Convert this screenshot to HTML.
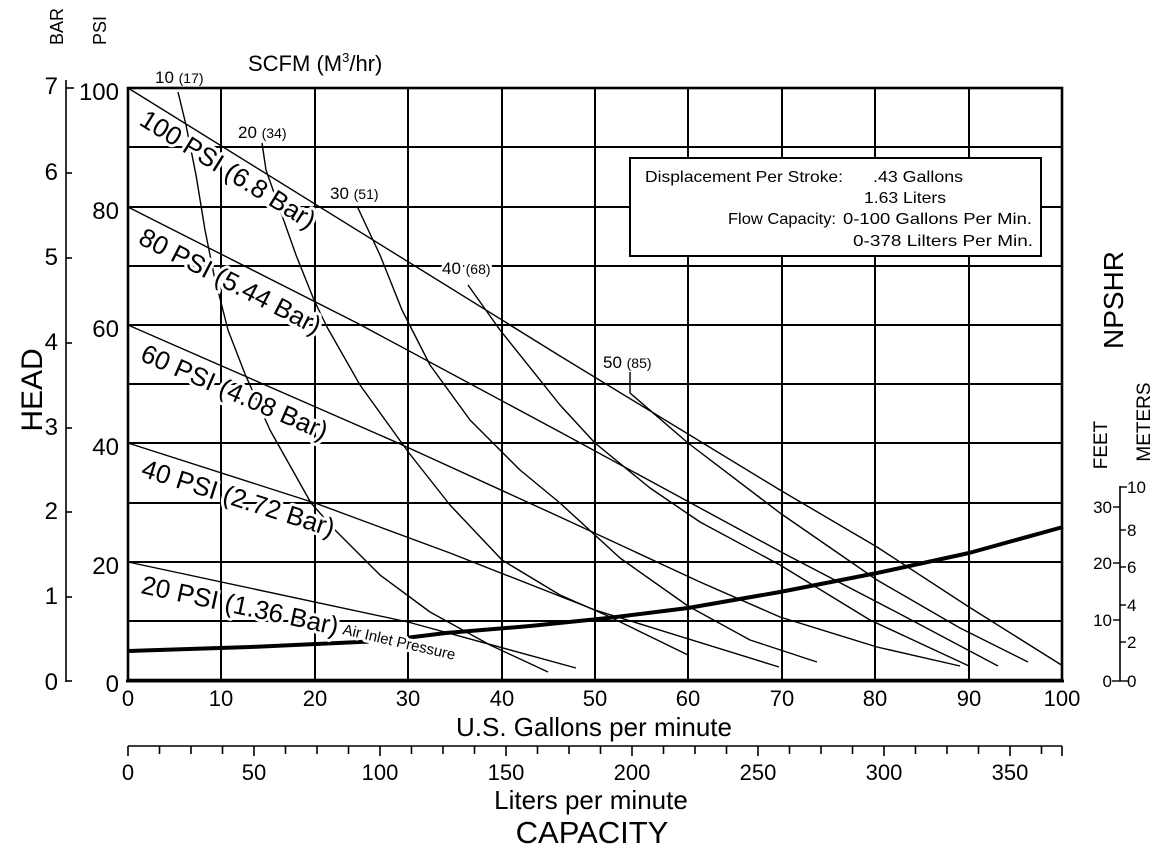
<!DOCTYPE html>
<html><head><meta charset="utf-8"><style>
html,body{margin:0;padding:0;background:#fff;}
svg{display:block;font-family:"Liberation Sans",Arial,sans-serif;}
.g{stroke:#000;stroke-width:2;fill:none}
.c{stroke:#000;stroke-width:1.4;fill:none;stroke-linejoin:round}
.w{paint-order:stroke;stroke:#fff;stroke-width:6px;stroke-linejoin:round}
</style></head><body>
<svg width="1156" height="853" viewBox="0 0 1156 853" xmlns="http://www.w3.org/2000/svg">
<g class="g">
<line x1="128" y1="147" x2="1062" y2="147"/><line x1="128" y1="207" x2="1062" y2="207"/>
<line x1="128" y1="266" x2="1062" y2="266"/><line x1="128" y1="325" x2="1062" y2="325"/>
<line x1="128" y1="384" x2="1062" y2="384"/><line x1="128" y1="443" x2="1062" y2="443"/>
<line x1="128" y1="503" x2="1062" y2="503"/><line x1="128" y1="562" x2="1062" y2="562"/>
<line x1="128" y1="621" x2="1062" y2="621"/>
<line x1="221" y1="88" x2="221" y2="680"/><line x1="315" y1="88" x2="315" y2="680"/>
<line x1="408" y1="88" x2="408" y2="680"/><line x1="502" y1="88" x2="502" y2="680"/>
<line x1="595" y1="88" x2="595" y2="680"/><line x1="688" y1="88" x2="688" y2="680"/>
<line x1="782" y1="88" x2="782" y2="680"/><line x1="875" y1="88" x2="875" y2="680"/>
<line x1="969" y1="88" x2="969" y2="680"/>
</g>
<rect x="128" y="88" width="934" height="592" fill="none" stroke="#000" stroke-width="2.6"/>
<line x1="126" y1="681" x2="1064" y2="681" stroke="#000" stroke-width="3"/>

<polyline class="c" points="128,88 560,356 780,490 877,547 969,607 1063,666"/>
<polyline class="c" points="128,207 357,323 560,432 783,553 900,614 998,666"/>
<polyline class="c" points="128,325 398,443 560,517 700,582 780,617 877,647 960,666"/>
<polyline class="c" points="128,443 315,503 450,553 595,610 779,667"/>
<polyline class="c" points="128,562 408,622 576,668"/>

<polyline class="c" points="178,92 186,125 196,175 205,230 214,275 228,330 245,374 270,430 311,503 335,530 380,575 430,612 490,645 548,672"/>
<polyline class="c" points="262,143 266,170 279,207 296,255 314,300 327,327 360,385 409,453 450,505 502,560 560,595 608,616 688,655"/>
<polyline class="c" points="357,206 380,255 402,310 430,365 470,420 520,470 560,503 620,558 688,606 750,640 817,662"/>
<polyline class="c" points="468,285 500,330 560,405 595,443 650,488 700,522 780,565 870,620 969,666"/>
<polyline class="c" points="630,393 688,443 780,513 877,580 960,628 1028,662"/>
<line x1="630" y1="372" x2="630" y2="393" stroke="#000" stroke-width="1.4"/>

<polyline fill="none" stroke="#000" stroke-width="4" stroke-linejoin="round" points="128,651 250,647 381,641 446,633 530,626 608,618 688,608 780,592 877,573 969,553 1063,527"/>

<text x="248" y="71" font-size="22">SCFM (M<tspan font-size="13" dy="-9">3</tspan><tspan dy="9">/hr)</tspan></text>
<text x="155" y="83" font-size="17">10 <tspan font-size="14">(17)</tspan></text>
<text x="238" y="138" font-size="17">20 <tspan font-size="14">(34)</tspan></text>
<text x="330" y="199" font-size="17">30 <tspan font-size="14">(51)</tspan></text>
<text class="w" x="442" y="274" font-size="17">40 <tspan font-size="14">(68)</tspan></text>
<text x="603" y="368" font-size="17">50 <tspan font-size="14">(85)</tspan></text>

<text class="w" x="138" y="124" font-size="26" transform="rotate(31.8 138 124)">100 PSI (6.8 Bar)</text>
<text class="w" x="137" y="243" font-size="26" transform="rotate(27.3 137 243)">80 PSI (5.44 Bar)</text>
<text class="w" x="139" y="360" font-size="26" transform="rotate(23.6 139 360)">60 PSI (4.08 Bar)</text>
<text class="w" x="140" y="476" font-size="26" transform="rotate(17.7 140 476)">40 PSI (2.72 Bar)</text>
<text class="w" x="140" y="593" font-size="26" transform="rotate(12.1 140 593)">20 PSI (1.36 Bar)</text>
<text class="w" x="342" y="634" font-size="15" transform="rotate(13 342 634)">Air Inlet Pressure</text>

<rect x="630" y="158" width="411" height="98" fill="#fff" stroke="#000" stroke-width="2"/>
<g font-size="16">
<text x="645" y="182" textLength="198" lengthAdjust="spacingAndGlyphs">Displacement Per Stroke:</text>
<text x="873" y="182" textLength="90" lengthAdjust="spacingAndGlyphs">.43 Gallons</text>
<text x="864" y="203" textLength="82" lengthAdjust="spacingAndGlyphs">1.63 Liters</text>
<text x="728" y="224" textLength="108" lengthAdjust="spacingAndGlyphs">Flow Capacity:</text>
<text x="843" y="224" textLength="189" lengthAdjust="spacingAndGlyphs">0-100 Gallons Per Min.</text>
<text x="853" y="246" textLength="180" lengthAdjust="spacingAndGlyphs">0-378 Lilters Per Min.</text>
</g>

<line x1="66" y1="80" x2="66" y2="682" stroke="#000" stroke-width="1.6"/>
<g stroke="#000" stroke-width="1.6">
<line x1="66" y1="88" x2="74" y2="88"/><line x1="66" y1="173" x2="72" y2="173"/>
<line x1="66" y1="258" x2="72" y2="258"/><line x1="66" y1="343" x2="72" y2="343"/>
<line x1="66" y1="428" x2="72" y2="428"/><line x1="66" y1="512" x2="72" y2="512"/>
<line x1="66" y1="597" x2="72" y2="597"/><line x1="66" y1="681" x2="72" y2="681"/>
</g>
<g font-size="24" text-anchor="end">
<text x="58" y="94">7</text><text x="58" y="180">6</text><text x="58" y="265">5</text>
<text x="58" y="350">4</text><text x="58" y="435">3</text><text x="58" y="519">2</text>
<text x="58" y="604">1</text><text x="58" y="690">0</text>
<text x="119" y="100">100</text><text x="119" y="219">80</text><text x="119" y="337">60</text>
<text x="119" y="455">40</text><text x="119" y="574">20</text><text x="119" y="692">0</text>
</g>
<text x="0" y="0" font-size="18" transform="translate(63 45) rotate(-90)">BAR</text>
<text x="0" y="0" font-size="18" transform="translate(106 45) rotate(-90)">PSI</text>
<text x="0" y="0" font-size="30" text-anchor="middle" transform="translate(42 390) rotate(-90)">HEAD</text>

<g font-size="22" text-anchor="middle">
<text x="128" y="706">0</text><text x="221" y="706">10</text><text x="315" y="706">20</text>
<text x="408" y="706">30</text><text x="502" y="706">40</text><text x="595" y="706">50</text>
<text x="688" y="706">60</text><text x="782" y="706">70</text><text x="875" y="706">80</text>
<text x="969" y="706">90</text><text x="1062" y="706">100</text>
</g>
<text x="594" y="736" font-size="26" text-anchor="middle">U.S. Gallons per minute</text>
<line x1="128" y1="746" x2="1062" y2="746" stroke="#000" stroke-width="1.6"/>
<g stroke="#000" stroke-width="1.6">
<line x1="128" y1="746" x2="128" y2="756"/><line x1="159.5" y1="746" x2="159.5" y2="754"/>
<line x1="191" y1="746" x2="191" y2="754"/><line x1="222.5" y1="746" x2="222.5" y2="754"/>
<line x1="254" y1="746" x2="254" y2="756"/><line x1="285.5" y1="746" x2="285.5" y2="754"/>
<line x1="317" y1="746" x2="317" y2="754"/><line x1="348.5" y1="746" x2="348.5" y2="754"/>
<line x1="380" y1="746" x2="380" y2="756"/><line x1="411.5" y1="746" x2="411.5" y2="754"/>
<line x1="443" y1="746" x2="443" y2="754"/><line x1="474.5" y1="746" x2="474.5" y2="754"/>
<line x1="506" y1="746" x2="506" y2="756"/><line x1="537.5" y1="746" x2="537.5" y2="754"/>
<line x1="569" y1="746" x2="569" y2="754"/><line x1="600.5" y1="746" x2="600.5" y2="754"/>
<line x1="632" y1="746" x2="632" y2="756"/><line x1="663.5" y1="746" x2="663.5" y2="754"/>
<line x1="695" y1="746" x2="695" y2="754"/><line x1="726.5" y1="746" x2="726.5" y2="754"/>
<line x1="758" y1="746" x2="758" y2="756"/><line x1="789.5" y1="746" x2="789.5" y2="754"/>
<line x1="821" y1="746" x2="821" y2="754"/><line x1="852.5" y1="746" x2="852.5" y2="754"/>
<line x1="884" y1="746" x2="884" y2="756"/><line x1="915.5" y1="746" x2="915.5" y2="754"/>
<line x1="947" y1="746" x2="947" y2="754"/><line x1="978.5" y1="746" x2="978.5" y2="754"/>
<line x1="1010" y1="746" x2="1010" y2="756"/><line x1="1041.5" y1="746" x2="1041.5" y2="754"/>
<line x1="1062" y1="746" x2="1062" y2="756"/>
</g>
<g font-size="22" text-anchor="middle">
<text x="128" y="780">0</text><text x="254" y="780">50</text><text x="380" y="780">100</text>
<text x="506" y="780">150</text><text x="632" y="780">200</text><text x="758" y="780">250</text>
<text x="884" y="780">300</text><text x="1010" y="780">350</text>
</g>
<text x="591" y="809" font-size="26" text-anchor="middle">Liters per minute</text>
<text x="592" y="843" font-size="31" text-anchor="middle">CAPACITY</text>

<text x="0" y="0" font-size="28" text-anchor="middle" transform="translate(1123 300) rotate(-90)">NPSHR</text>
<text x="0" y="0" font-size="19" text-anchor="middle" transform="translate(1107 445) rotate(-90)">FEET</text>
<text x="0" y="0" font-size="19" text-anchor="middle" transform="translate(1150 422) rotate(-90)">METERS</text>
<line x1="1120" y1="486" x2="1120" y2="681" stroke="#000" stroke-width="1.6"/>
<g stroke="#000" stroke-width="1.4">
<line x1="1112" y1="681" x2="1128" y2="681"/>
<line x1="1113" y1="620" x2="1120" y2="620"/><line x1="1113" y1="563" x2="1120" y2="563"/>
<line x1="1113" y1="507" x2="1120" y2="507"/>
<line x1="1120" y1="642" x2="1126" y2="642"/><line x1="1120" y1="605" x2="1126" y2="605"/>
<line x1="1120" y1="567" x2="1126" y2="567"/><line x1="1120" y1="530" x2="1126" y2="530"/>
<line x1="1120" y1="487" x2="1127" y2="487"/>
</g>
<g font-size="17" text-anchor="end">
<text x="1112" y="687">0</text><text x="1112" y="626">10</text><text x="1112" y="569">20</text><text x="1112" y="513">30</text>
</g>
<g font-size="17">
<text x="1127" y="687">0</text><text x="1127" y="648">2</text><text x="1127" y="611">4</text>
<text x="1127" y="573">6</text><text x="1127" y="536">8</text><text x="1127" y="493">10</text>
</g>
</svg>
</body></html>
